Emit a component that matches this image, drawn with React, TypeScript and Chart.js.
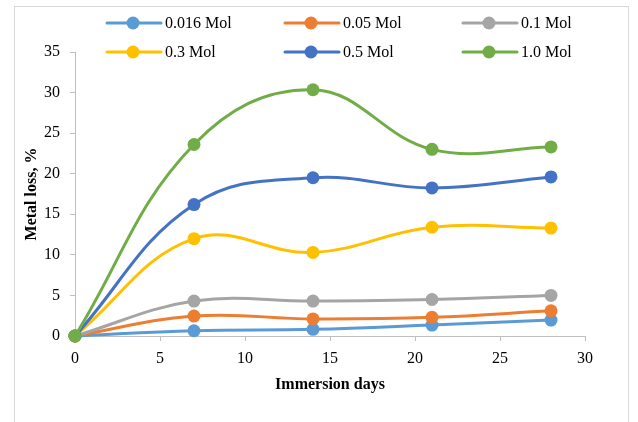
import React, { useEffect, useRef } from "react";
import { Chart, registerables } from "chart.js";

Chart.register(...registerables);

const days = [0, 7, 14, 21, 28];
const seriesLabels = ["0.016 Mol", "0.05 Mol", "0.1 Mol", "0.3 Mol", "0.5 Mol", "1.0 Mol"];
const mol0016 = [0, 0.65, 0.82, 1.35, 1.96];
const mol005 = [0, 2.45, 2.1, 2.3, 3.1];
const mol01 = [0, 4.3, 4.3, 4.5, 5.0];
const mol03 = [0, 12.0, 10.3, 13.4, 13.3];
const mol05 = [0, 16.2, 19.5, 18.25, 19.6];
const mol10 = [0, 23.6, 30.35, 23.0, 23.3];
const seriesValues = [mol0016, mol005, mol01, mol03, mol05, mol10];
const seriesColors = ["#5B9BD5", "#ED7D31", "#A5A5A5", "#FFC000", "#4472C4", "#70AD47"];
const xMin = 0, xMax = 30, xStep = 5;
const yMin = 0, yMax = 35, yStep = 5;
const xTitle = "Immersion days";
const yTitle = "Metal loss, %";

const FONT = "'Liberation Serif', 'Times New Roman', serif";

const frameAndLegend = {
  id: "frameAndLegend",
  beforeDraw(chart: any) {
    const ctx = chart.ctx;
    ctx.save();
    ctx.fillStyle = "#ffffff";
    ctx.fillRect(0, 0, chart.width, chart.height);
    ctx.strokeStyle = "#d9d9d9";
    ctx.lineWidth = 1;
    ctx.strokeRect(14.5, 6.5, 614, 430);
    ctx.restore();
  },
  afterDraw(chart: any) {
    const ctx = chart.ctx;
    ctx.save();
    chart.data.datasets.forEach((ds: any, i: number) => {
      const col = i % 3;
      const row = Math.floor(i / 3);
      const x0 = 107 + col * 178;
      const y = 23 + row * 29;
      ctx.strokeStyle = ds.borderColor;
      ctx.lineWidth = 3;
      ctx.lineCap = "round";
      ctx.beginPath();
      ctx.moveTo(x0, y);
      ctx.lineTo(x0 + 54, y);
      ctx.stroke();
      ctx.fillStyle = ds.borderColor;
      ctx.beginPath();
      ctx.arc(x0 + 26, y, 6.5, 0, Math.PI * 2);
      ctx.fill();
      ctx.fillStyle = "#000000";
      ctx.font = `16px ${FONT}`;
      ctx.textAlign = "left";
      ctx.textBaseline = "middle";
      ctx.fillText(ds.label, x0 + 58, y + 1);
    });
    ctx.restore();
  },
};

export default function App() {
  const ref = useRef<HTMLCanvasElement | null>(null);

  useEffect(() => {
    if (!ref.current) return;
    const datasets = seriesLabels.map((label, i) => ({
      label,
      data: days.map((d, j) => ({ x: d, y: seriesValues[i][j] })),
      borderColor: seriesColors[i],
      backgroundColor: seriesColors[i],
      pointBackgroundColor: seriesColors[i],
      pointBorderColor: seriesColors[i],
      pointRadius: 6.5,
      pointBorderWidth: 0,
      borderWidth: 3,
      tension: 0.4,
      fill: false,
      clip: false,
      order: seriesLabels.length - i,
    }));
    const chart = new Chart(ref.current, {
      type: "line",
      data: { datasets },
      plugins: [frameAndLegend],
      options: {
        animation: false,
        responsive: false,
        devicePixelRatio: 1,
        layout: { padding: { left: 0, right: 53, top: 52, bottom: 0 } },
        plugins: {
          legend: { display: false },
          tooltip: { enabled: false },
        },
        elements: { line: { capBezierPoints: false } },
        scales: {
          x: {
            type: "linear",
            min: xMin,
            max: xMax,
            afterFit: (s: any) => { s.height = 86; },
            ticks: {
              stepSize: xStep,
              color: "#000000",
              padding: 8,
              font: { family: FONT, size: 16 },
            },
            grid: {
              display: true,
              drawOnChartArea: false,
              drawTicks: true,
              tickLength: 5,
              color: "#bfbfbf",
            },
            border: { display: true, color: "#bfbfbf", width: 1 },
            title: {
              display: true,
              text: xTitle,
              color: "#000000",
              font: { family: FONT, size: 16, weight: "bold" },
              padding: { top: 0, bottom: 28 },
            },
          },
          y: {
            type: "linear",
            min: yMin,
            max: yMax,
            afterFit: (s: any) => { s.width = 75; },
            ticks: {
              stepSize: yStep,
              color: "#000000",
              padding: 10,
              font: { family: FONT, size: 16 },
            },
            grid: {
              display: true,
              drawOnChartArea: false,
              drawTicks: true,
              tickLength: 5,
              color: "#bfbfbf",
            },
            border: { display: true, color: "#bfbfbf", width: 1 },
            title: {
              display: true,
              text: yTitle,
              color: "#000000",
              font: { family: FONT, size: 16, weight: "bold" },
              padding: { top: 22, bottom: 0 },
            },
          },
        },
      } as any,
    });
    return () => chart.destroy();
  }, []);

  return (
    <div style={{ position: "absolute", left: 0, top: 0, width: 638, height: 422 }}>
      <canvas ref={ref} width={638} height={422} style={{ display: "block" }} />
    </div>
  );
}
